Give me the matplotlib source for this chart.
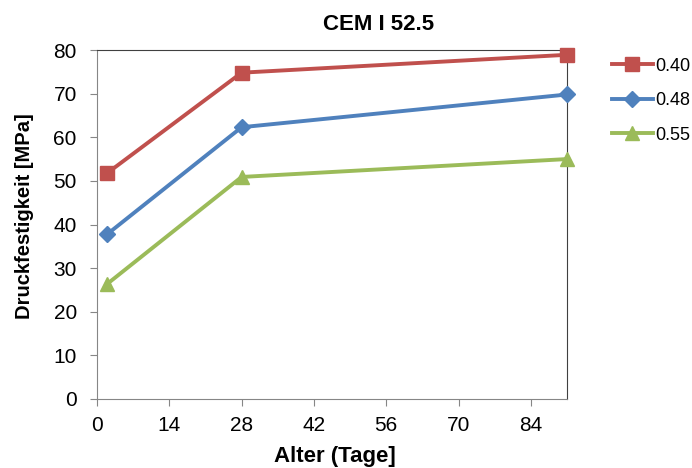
import matplotlib
matplotlib.use("Agg")
import matplotlib.pyplot as plt

plt.rcParams['font.family'] = ['Liberation Sans', 'DejaVu Sans']

alter = [2, 28, 91]
serien = ['0.40', '0.48', '0.55']
werte = {
    '0.40': [51.8, 74.8, 78.9],
    '0.48': [37.8, 62.3, 69.8],
    '0.55': [26.4, 50.9, 55.0],
}
farben = {'0.40': '#C0504D', '0.48': '#4F81BD', '0.55': '#9BBB59'}
marker = {'0.40': 's', '0.48': 'D', '0.55': '^'}
msize = {'0.40': 10, '0.48': 8.5, '0.55': 10.5}
x_ticks = [0, 14, 28, 42, 56, 70, 84]
y_ticks = [0, 10, 20, 30, 40, 50, 60, 70, 80]

W, H = 692, 468
fig = plt.figure(figsize=(W / 100, H / 100), dpi=100)
# axes box in pixels: left 97, right 567, top 50, bottom 399
ax = fig.add_axes([97 / W, (H - 399) / H, (567 - 97) / W, (399 - 50) / H])

for s in serien:
    ax.plot(alter, werte[s], color=farben[s], marker=marker[s], markersize=msize[s],
            linewidth=2.8, label=s, clip_on=False, zorder=3)

ax.set_xlim(0, 91)
ax.set_ylim(0, 80)
ax.set_xticks(x_ticks)
ax.set_yticks(y_ticks)
ax.tick_params(labelsize=15, color='#868686', length=5, direction='out')
ax.tick_params(axis='y', pad=9.5)
ax.tick_params(axis='x', pad=7.5)
for side in ['left', 'bottom']:
    ax.spines[side].set_color('#868686')
for side in ['top', 'right']:
    ax.spines[side].set_color('#404040')

fig.text(378.5 / W, 1 - 30 / H, 'CEM I 52.5', fontsize=16, fontweight='bold',
         ha='center', va='baseline')
fig.text(334.7 / W, 1 - 462 / H, 'Alter (Tage]', fontsize=16, fontweight='bold',
         ha='center', va='baseline')
fig.text(25 / W, 1 - 216.5 / H, 'Druckfestigkeit [MPa]', fontsize=14.5,
         fontweight='bold', rotation=90, ha='center', va='center')

fig.legend(handles=ax.get_lines(), loc='upper left',
           bbox_to_anchor=(608 / W, 1 - 54 / H), frameon=False,
           fontsize=13, handlelength=2.3, handletextpad=0.1,
           labelspacing=0.97, borderaxespad=0, borderpad=0.2)

fig.savefig('out.png', dpi=100)
